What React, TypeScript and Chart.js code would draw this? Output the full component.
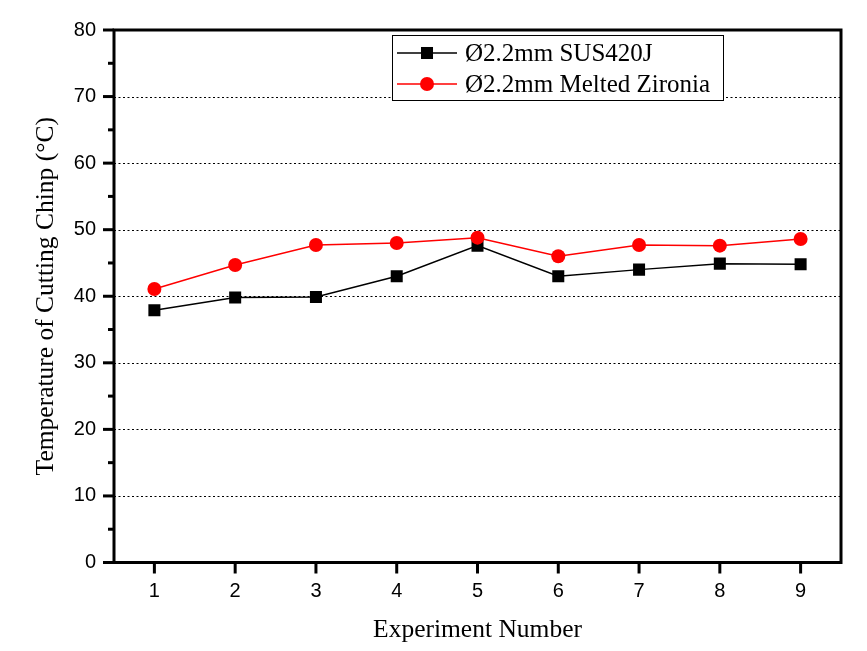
import React, { useEffect, useRef } from "react";
import { Chart, registerables } from "chart.js";

Chart.register(...registerables);

const experiments = [1, 2, 3, 4, 5, 6, 7, 8, 9];
const sus420jTemps = [37.9, 39.8, 39.9, 43.0, 47.6, 43.0, 44.0, 44.9, 44.8];
const zirconiaTemps = [41.1, 44.7, 47.7, 48.0, 48.8, 46.0, 47.7, 47.6, 48.6];
const yMajorTicks = [0, 10, 20, 30, 40, 50, 60, 70, 80];
const yMinorTicks = [5, 15, 25, 35, 45, 55, 65, 75];
const yGridValues = [10, 20, 30, 40, 50, 60, 70];
const seriesLabels = ["Ø2.2mm SUS420J", "Ø2.2mm Melted Zironia"];
const xTitle = "Experiment Number";
const yTitle = "Temperature of Cutting Chinp (°C)";

const SERIF = "'Liberation Serif', 'Times New Roman', serif";
const SANS = "'Liberation Sans', Arial, sans-serif";

const framePlugin = {
  id: "frame",
  beforeDatasetsDraw(chart: any) {
    const { ctx, chartArea } = chart;
    const y = chart.scales.y;
    ctx.save();
    ctx.strokeStyle = "#000";
    ctx.lineWidth = 1;
    ctx.setLineDash([2, 2.5]);
    yGridValues.forEach((v) => {
      const py = Math.round(y.getPixelForValue(v)) + 0.5;
      ctx.beginPath();
      ctx.moveTo(chartArea.left, py);
      ctx.lineTo(chartArea.right, py);
      ctx.stroke();
    });
    ctx.restore();
  },
  afterDraw(chart: any) {
    const { ctx, chartArea } = chart;
    const x = chart.scales.x;
    const y = chart.scales.y;
    ctx.save();
    ctx.strokeStyle = "#000";
    ctx.lineWidth = 3;
    ctx.setLineDash([]);
    ctx.strokeRect(
      chartArea.left,
      chartArea.top,
      chartArea.right - chartArea.left,
      chartArea.bottom - chartArea.top
    );
    yMajorTicks.forEach((v) => {
      const py = y.getPixelForValue(v);
      ctx.beginPath();
      ctx.moveTo(chartArea.left - 11, py);
      ctx.lineTo(chartArea.left, py);
      ctx.stroke();
    });
    yMinorTicks.forEach((v) => {
      const py = y.getPixelForValue(v);
      ctx.beginPath();
      ctx.moveTo(chartArea.left - 6, py);
      ctx.lineTo(chartArea.left, py);
      ctx.stroke();
    });
    experiments.forEach((v) => {
      const px = x.getPixelForValue(v);
      ctx.beginPath();
      ctx.moveTo(px, chartArea.bottom);
      ctx.lineTo(px, chartArea.bottom + 11);
      ctx.stroke();
    });

    // legend
    const bx = 392.5, by = 35.5, bw = 331, bh = 65;
    ctx.fillStyle = "#fff";
    ctx.fillRect(bx, by, bw, bh);
    ctx.lineWidth = 1;
    ctx.strokeStyle = "#000";
    ctx.strokeRect(bx, by, bw, bh);
    const rows = [53, 84];
    chart.data.datasets.forEach((ds: any, i: number) => {
      const ry = rows[i];
      ctx.strokeStyle = ds.borderColor;
      ctx.lineWidth = ds.borderWidth;
      ctx.beginPath();
      ctx.moveTo(397, ry);
      ctx.lineTo(457, ry);
      ctx.stroke();
      ctx.fillStyle = ds.pointBackgroundColor;
      if (ds.pointStyle === "rect") {
        const s = ds.pointRadius * Math.SQRT1_2;
        ctx.fillRect(427 - s, ry - s, 2 * s, 2 * s);
      } else {
        ctx.beginPath();
        ctx.arc(427, ry, ds.pointRadius, 0, Math.PI * 2);
        ctx.fill();
      }
      ctx.fillStyle = "#000";
      ctx.font = `25px ${SERIF}`;
      ctx.textBaseline = "middle";
      ctx.textAlign = "left";
      ctx.fillText(ds.label, 465, ry + 1);
    });
    ctx.restore();
  },
};

export default function App() {
  const ref = useRef<HTMLCanvasElement | null>(null);
  useEffect(() => {
    document.body.style.margin = "0";
    const canvas = ref.current!;
    const chart = new Chart(canvas, {
      type: "line",
      data: {
        datasets: [
          {
            label: seriesLabels[0],
            data: experiments.map((e, i) => ({ x: e, y: sus420jTemps[i] })),
            order: 1,
            borderColor: "#000",
            borderWidth: 1.5,
            pointStyle: "rect",
            pointRadius: 8.5,
            pointBackgroundColor: "#000",
            pointBorderWidth: 0,
            pointBorderColor: "#000",
          },
          {
            label: seriesLabels[1],
            data: experiments.map((e, i) => ({ x: e, y: zirconiaTemps[i] })),
            order: 0,
            borderColor: "#ff0000",
            borderWidth: 1.5,
            pointStyle: "circle",
            pointRadius: 7,
            pointBackgroundColor: "#ff0000",
            pointBorderWidth: 0,
            pointBorderColor: "#ff0000",
          },
        ],
      },
      options: {
        responsive: false,
        animation: false,
        layout: { padding: { left: 0, top: 30, right: 26, bottom: 0 } },
        plugins: { legend: { display: false }, tooltip: { enabled: false } },
        scales: {
          x: {
            type: "linear",
            min: 0.5,
            max: 9.5,
            afterBuildTicks: (s: any) => {
              s.ticks = experiments.map((v) => ({ value: v }));
            },
            afterFit: (s: any) => {
              s.height = 651 - 562.5;
            },
            grid: { display: false, drawTicks: false },
            border: { display: false },
            ticks: {
              color: "#000",
              font: { family: SANS, size: 20 },
              padding: 17,
              callback: (v: any) => String(v),
            },
            title: {
              display: true,
              text: xTitle,
              color: "#000",
              font: { family: SERIF, size: 25.5 },
              padding: { top: 5, bottom: 5 },
            },
          },
          y: {
            type: "linear",
            min: 0,
            max: 80,
            afterBuildTicks: (s: any) => {
              s.ticks = yMajorTicks.map((v) => ({ value: v }));
            },
            afterFit: (s: any) => {
              s.width = 114;
            },
            grid: { display: false, drawTicks: false },
            border: { display: false },
            ticks: {
              color: "#000",
              font: { family: SANS, size: 20 },
              padding: 18,
              callback: (v: any) => String(v),
            },
            title: {
              display: true,
              text: yTitle,
              color: "#000",
              font: { family: SERIF, size: 25.5 },
              padding: { top: 31, bottom: 31 },
            },
          },
        },
      },
      plugins: [framePlugin],
    });
    return () => chart.destroy();
  }, []);
  return (
    <div style={{ position: "absolute", left: 0, top: 0, width: 867, height: 651, background: "#fff" }}>
      <canvas ref={ref} width={867} height={651} />
    </div>
  );
}
